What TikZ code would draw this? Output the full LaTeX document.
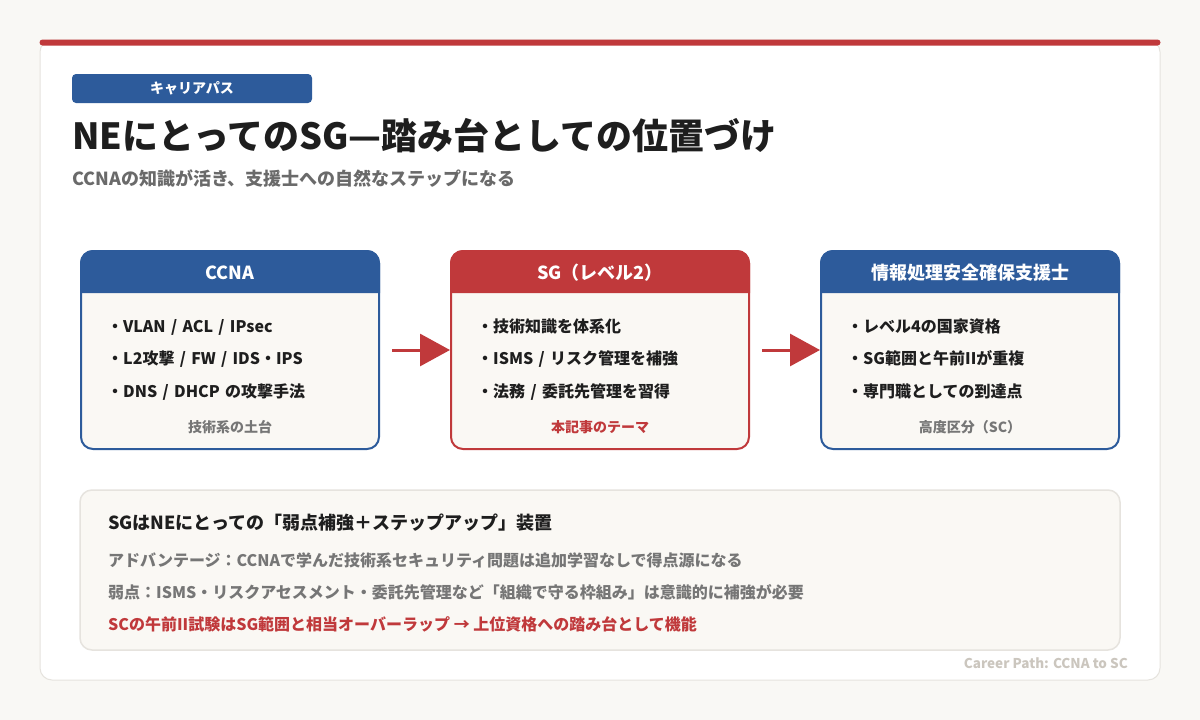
\documentclass[tikz,border=0pt]{standalone}
\usepackage{fontspec}
\setmainfont{Noto Sans CJK JP}
\usepackage{xcolor}
\usetikzlibrary{positioning,arrows.meta}

\definecolor{pathblue}{HTML}{2D5B9B}
\definecolor{pathred}{HTML}{C0393B}
\definecolor{inkdark}{HTML}{1E1E1E}
\definecolor{inkgray}{HTML}{6A6A6A}
\definecolor{notegray}{HTML}{767676}
\definecolor{faint}{HTML}{CBC6BE}
\definecolor{cream}{HTML}{FAF8F4}
\definecolor{edgegray}{HTML}{E6E3DE}
\definecolor{pagebg}{HTML}{F9F8F5}

\begin{document}
\begin{tikzpicture}[x=1pt, y=-1pt, node distance = 16pt]
            \tikzstyle{card} = [draw=edgegray, line width=1pt, fill=white, rounded corners=12pt, minimum width=1120pt, minimum height=640pt]
            \tikzstyle{tag} = [fill=pathblue, rounded corners=4pt, minimum width=240pt, minimum height=29pt, inner sep=0pt, text=white, font=\bfseries\fontsize{14}{14}\selectfont]
            \tikzstyle{stage} = [line width=2pt, rounded corners=12pt, fill=cream, minimum width=298pt, minimum height=198pt]
            \tikzstyle{head} = [anchor=base, text=white, font=\bfseries\fontsize{18}{18}\selectfont]
            \tikzstyle{item} = [text=inkdark, text width=260pt, align=left, inner sep=0pt, text height=14pt, text depth=2pt, font=\bfseries\fontsize{16}{16}\selectfont]
            \tikzstyle{note} = [anchor=base, text=notegray, font=\bfseries\fontsize{14}{14}\selectfont]
            \tikzstyle{summary} = [draw=edgegray, line width=1.5pt, fill=cream, rounded corners=12pt, minimum width=1040pt, minimum height=160pt]
            \tikzstyle{sumline} = [anchor=base west, inner sep=0pt, text=notegray, font=\bfseries\fontsize{16}{16}\selectfont]
            \tikzstyle{flow} = [draw=pathred, line width=3pt, shorten <=12pt, -{Triangle[length=30pt, width=32pt]}]

            \path[fill=pagebg, use as bounding box] (0,0) rectangle (1200,720);
            \node [card] (card) at (600,360) {};
            \fill [pathred, rounded corners=3pt] (card.north west) rectangle ([yshift=-6pt]card.north east);

            \node [tag] (tag) at (192,88.5) {キャリアパス};
            \node [anchor=base west, inner sep=0pt, text=inkdark, font=\bfseries\fontsize{36}{36}\selectfont] (title) at (72,149) {NEにとってのSG—踏み台としての位置づけ};
            \node [anchor=base west, inner sep=0pt, text=inkgray, font=\bfseries\fontsize{18}{18}\selectfont] (subtitle) at (72,185) {CCNAの知識が活き、支援士への自然なステップになる};

            \node [stage, draw=pathblue] (ccna) at (230,350) {};
            \node [stage, draw=pathred] (sg) at (600,350) {};
            \node [stage, draw=pathblue] (sc) at (970,350) {};
            \foreach \b/\c in {ccna/pathblue, sg/pathred, sc/pathblue}
                \fill [\c] ([yshift=-43pt]\b.north west) [rounded corners=13pt] -- (\b.north west) -- (\b.north east) [sharp corners] -- ([yshift=-43pt]\b.north east) -- cycle;

            \node [head] (ccnahead) at ([yshift=-29pt]ccna.north) {CCNA};
            \node [item, anchor=north west] (ccna1) at (107,318) {・VLAN / ACL / IPsec};
            \node [item, below = of ccna1] (ccna2) {・L2攻撃 / FW / IDS・IPS};
            \node [item, below = of ccna2] (ccna3) {・DNS / DHCP の攻撃手法};
            \node [note] (ccnanote) at ([yshift=18pt]ccna.south) {技術系の土台};

            \node [head] (sghead) at ([yshift=-29pt]sg.north) {SG（レベル2）};
            \node [item, anchor=north west] (sg1) at (477,318) {・技術知識を体系化};
            \node [item, below = of sg1] (sg2) {・ISMS / リスク管理を補強};
            \node [item, below = of sg2] (sg3) {・法務 / 委託先管理を習得};
            \node [note, text=pathred] (sgnote) at ([yshift=18pt]sg.south) {本記事のテーマ};

            \node [head] (schead) at ([yshift=-29pt]sc.north) {情報処理安全確保支援士};
            \node [item, anchor=north west] (sc1) at (847,318) {・レベル4の国家資格};
            \node [item, below = of sc1] (sc2) {・SG範囲と午前IIが重複};
            \node [item, below = of sc2] (sc3) {・専門職としての到達点};
            \node [note] (scnote) at ([yshift=18pt]sc.south) {高度区分（SC）};

            \foreach \a/\b in {ccna/sg, sg/sc}
                \draw [flow] (\a) -- (\b);

            \node [summary] (summary) at (600,570) {};
            \node [sumline, text=inkdark, font=\bfseries\fontsize{18}{18}\selectfont] (sumhead) at (108,529) {SGはNEにとっての「弱点補強＋ステップアップ」装置};
            \node [sumline] (plus) at (108,566) {アドバンテージ：CCNAで学んだ技術系セキュリティ問題は追加学習なしで得点源になる};
            \node [sumline] (minus) at (108,598) {弱点：ISMS・リスクアセスメント・委託先管理など「組織で守る枠組み」は意識的に補強が必要};
            \node [sumline, text=pathred] (bridge) at (108,630) {SCの午前II試験はSG範囲と相当オーバーラップ → 上位資格への踏み台として機能};

            \node [anchor=base east, inner sep=0pt, text=faint, font=\bfseries\fontsize{13.5}{13.5}\selectfont] (credit) at (1128,668) {Career Path: CCNA to SC};
\end{tikzpicture}
\end{document}
